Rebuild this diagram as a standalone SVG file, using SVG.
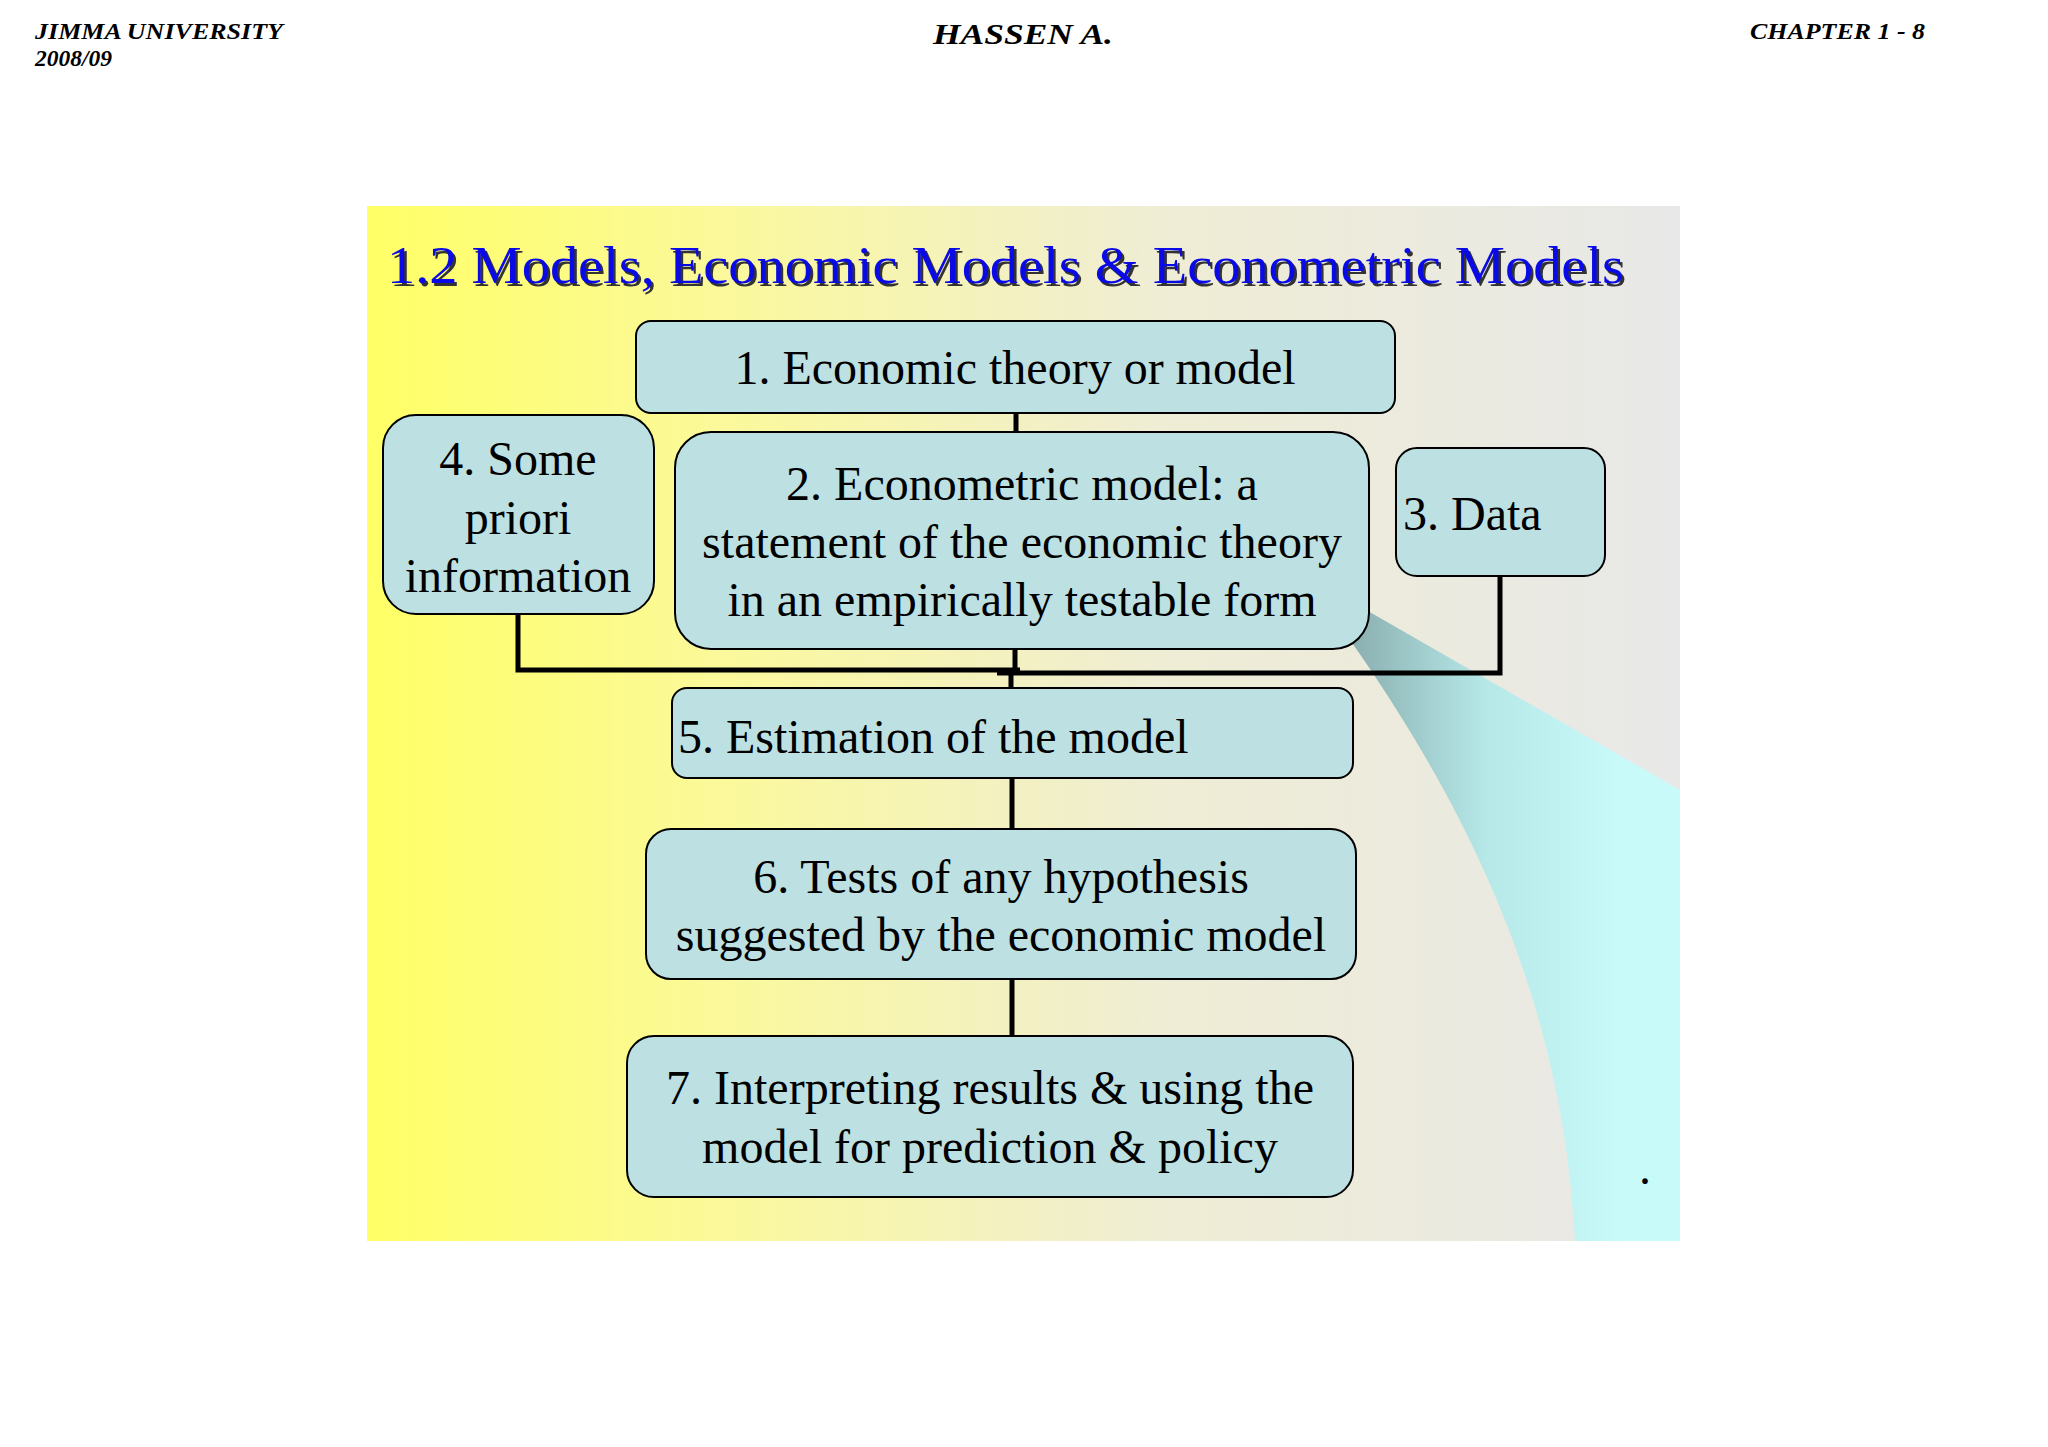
<svg xmlns="http://www.w3.org/2000/svg" width="2048" height="1447" viewBox="0 0 2048 1447">
<defs>
<linearGradient id="bg" x1="0" y1="0" x2="1" y2="0">
<stop offset="0" stop-color="#FFFF66"/>
<stop offset="0.3" stop-color="#FAF8A0"/>
<stop offset="0.6" stop-color="#EFEDD4"/>
<stop offset="1" stop-color="#E8E8E8"/>
</linearGradient>
<linearGradient id="wedge" gradientUnits="userSpaceOnUse" x1="1350" y1="0" x2="1620" y2="0">
<stop offset="0" stop-color="#8AAEAF"/>
<stop offset="0.5" stop-color="#B6E8E8"/>
<stop offset="1" stop-color="#C8FAFA"/>
</linearGradient>
<style>
.hdr{font-family:"Liberation Serif","Times New Roman",serif;font-weight:bold;font-style:italic;fill:#000}
.box{fill:#BDE0E3;stroke:#000;stroke-width:2}
.t{font-family:"Liberation Serif","Times New Roman",serif;font-size:48px;fill:#000}
.c{text-anchor:middle}
.ln{stroke:#000;stroke-width:5;fill:none}
.title{font-family:"Liberation Serif","Times New Roman",serif;font-size:52px}
</style>
</defs>
<rect width="2048" height="1447" fill="#FFFFFF"/>
<g id="header">
<text class="hdr" x="35" y="39" font-size="24" textLength="248" lengthAdjust="spacingAndGlyphs">JIMMA UNIVERSITY</text>
<text class="hdr" x="35" y="66" font-size="24" textLength="77" lengthAdjust="spacingAndGlyphs">2008/09</text>
<text class="hdr" x="933" y="44" font-size="29" textLength="180" lengthAdjust="spacingAndGlyphs">HASSEN A.</text>
<text class="hdr" x="1750" y="39" font-size="24" textLength="175" lengthAdjust="spacingAndGlyphs">CHAPTER 1 - 8</text>
</g>
<rect x="367" y="206" width="1313" height="1035" fill="url(#bg)"/>
<path d="M1340 595 L1680 790 L1680 1241 L1575 1241 C1565 1050 1505 860 1350 640 Z" fill="url(#wedge)"/>
<g id="title">
<text class="title" x="389.5" y="285.5" fill="#333333" textLength="1237" lengthAdjust="spacingAndGlyphs">1.2 Models, Economic Models &amp; Econometric Models</text>
<text class="title" x="387" y="283" fill="#0A0AE6" textLength="1237" lengthAdjust="spacingAndGlyphs">1.2 Models, Economic Models &amp; Econometric Models</text>
</g>
<g id="connectors">
<line class="ln" x1="1016" y1="413" x2="1016" y2="432"/>
<line class="ln" x1="1015" y1="649" x2="1015" y2="670"/>
<polyline class="ln" points="518,614 518,670 1020,670"/>
<polyline class="ln" points="1500,576 1500,673 997,673"/>
<line class="ln" x1="1011" y1="670" x2="1011" y2="688"/>
<line class="ln" x1="1012" y1="778" x2="1012" y2="829"/>
<line class="ln" x1="1012" y1="979" x2="1012" y2="1036"/>
</g>
<g id="node1">
<rect class="box" x="636" y="321" width="759" height="92" rx="15"/>
<text class="t c" x="1015" y="384">1. Economic theory or model</text>
</g>
<g id="node4">
<rect class="box" x="383" y="415" width="271" height="199" rx="33"/>
<text class="t c" x="518" y="475">4. Some</text>
<text class="t c" x="518" y="534">priori</text>
<text class="t c" x="518" y="592">information</text>
</g>
<g id="node2">
<rect class="box" x="675" y="432" width="694" height="217" rx="36"/>
<text class="t c" x="1022" y="500">2. Econometric model: a</text>
<text class="t c" x="1022" y="558">statement of the economic theory</text>
<text class="t c" x="1022" y="616">in an empirically testable form</text>
</g>
<g id="node3">
<rect class="box" x="1396" y="448" width="209" height="128" rx="21"/>
<text class="t" x="1403" y="530">3. Data</text>
</g>
<g id="node5">
<rect class="box" x="672" y="688" width="681" height="90" rx="15"/>
<text class="t" x="678" y="753">5. Estimation of the model</text>
</g>
<g id="node6">
<rect class="box" x="646" y="829" width="710" height="150" rx="25"/>
<text class="t c" x="1001" y="893">6. Tests of any hypothesis</text>
<text class="t c" x="1001" y="951">suggested by the economic model</text>
</g>
<g id="node7">
<rect class="box" x="627" y="1036" width="726" height="161" rx="27"/>
<text class="t c" x="990" y="1104">7. Interpreting results &amp; using the</text>
<text class="t c" x="990" y="1163">model for prediction &amp; policy</text>
</g>
<text class="t" x="1639" y="1184" font-size="24">.</text>
</svg>
